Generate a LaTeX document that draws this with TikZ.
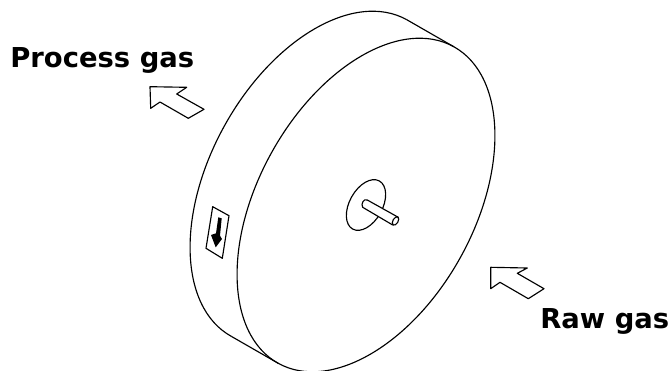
\documentclass[tikz,border=0pt]{standalone}
\usepackage{fontspec}
\setmainfont{DejaVu Sans}
\usetikzlibrary{calc}

\begin{document}
\begin{tikzpicture}[
  x=0.02cm, y=0.02cm,
  outline/.style={draw=black, line width=0.65pt, line join=round},
  gas_arrow/.style={outline, fill=white},
  gas_label/.style={inner sep=0pt, anchor=base west, font=\fontsize{15.6}{18}\selectfont\bfseries}
]

% Disc centres and radii
\def\xFront{366}
\def\yFront{165}
\def\xBack{319}
\def\yBack{192}
\def\rMajor{181}
\def\rMinor{108}

\useasboundingbox (0,0) rectangle (670,370);
\clip (0,0) rectangle (670,370);

% Front face
\begin{scope}[shift={(\xFront,\yFront)},rotate=61]
  \draw[outline] (0,0) ellipse [x radius=\rMajor, y radius=\rMinor];
  \coordinate (F1) at (\rMajor,0);
  \coordinate (F2) at (-\rMajor,0);
\end{scope}

% Back edge
\begin{scope}[shift={(\xBack,\yBack)},rotate=61]
  \coordinate (B1) at (\rMajor,0);
  \coordinate (B2) at (-\rMajor,0);
  \draw[outline] (B1) arc [start angle=0, end angle=180, x radius=\rMajor, y radius=\rMinor];
\end{scope}

% Tangent lines
\draw[outline] (B1) -- (F1);
\draw[outline] (B2) -- (F2);

% Hub and shaft
\draw[outline] (\xFront,\yFront) ellipse [x radius=27.5, y radius=16.5, rotate=61];
\draw[gas_arrow] (362.7,162.7) .. controls (360.5,166) and (364,172) .. (367.3,170)
  -- (398.3,152.7) -- (392.7,145) -- cycle;
\draw[gas_arrow] (395.5,149) ellipse [x radius=4.6, y radius=2.6, rotate=60];

% Flow tag on the rim
\draw[outline] (212.7,163.3) -- (229,154.3) -- (222.3,111.7) -- (206,121.7) -- cycle;
\fill[black] (218.3,152.7) -- (221.7,151.7) -- (220,134.3) -- (222,131) -- (215.7,122.7)
  -- (211,135) -- (216,136.7) -- cycle;

% Gas arrows
\draw[gas_arrow] (150,283.3) -- (186.7,282.7) -- (176.7,276) -- (204,260.7)
  -- (188.3,251.7) -- (160,268) -- (150.7,261.7) -- cycle;
\draw[gas_arrow] (490.7,102.7) -- (527.3,102) -- (517.3,96.7) -- (544,81.3)
  -- (528.3,71.3) -- (500,87.7) -- (490.7,81.3) -- cycle;

% Labels
\node[gas_label] (process) at (10,303) {Process gas};
\node[gas_label] (raw) at (540,42) {Raw gas};

\end{tikzpicture}
\end{document}
